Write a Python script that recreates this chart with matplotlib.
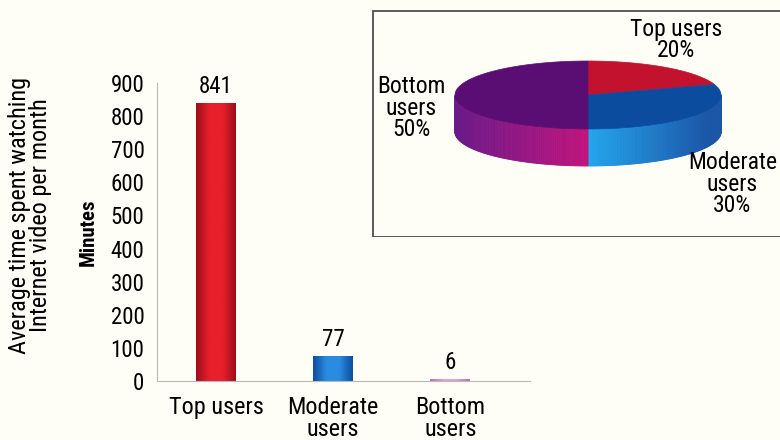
import matplotlib
matplotlib.use('Agg')
import matplotlib.pyplot as plt
import numpy as np
from matplotlib.colors import to_rgb, LinearSegmentedColormap
from matplotlib.patches import Polygon, Rectangle

plt.rcParams['font.family'] = ['Roboto Condensed', 'DejaVu Sans']

# bar chart data
categories = ['Top users', 'Moderate\nusers', 'Bottom\nusers']
minutes = [841, 77, 6]
yticks = [0, 100, 200, 300, 400, 500, 600, 700, 800, 900]

# pie data
pie_labels = ['Top users\n20%', 'Moderate\nusers\n30%', 'Bottom\nusers\n50%']
shares = [20, 30, 50]

bg = '#fffef6'
bar_cols = [('#9e0d1c', '#e8202c'), ('#0b4f9e', '#2a8be0'), ('#c86aa8', '#e6a0d0')]
top_cols = ['#c3122e', '#0b4c9e', '#5a0d72']
side_cols = [('#c3122e', '#8a0c20'), ('#22a6ee', '#1c56a6'), ('#6a1a8a', '#c0147c')]

fig = plt.figure(figsize=(7.8, 4.4), dpi=100, facecolor=bg)

# ---- bar chart ----
ax = fig.add_axes([157/780, 1-381/440, 373/780, (381-83)/440])
ax.set_facecolor('none')
x = np.arange(len(categories))
bars = ax.bar(x, minutes, width=0.34, color='none', zorder=2)
for b, (dark, light) in zip(bars, bar_cols):
    cmap = LinearSegmentedColormap.from_list('c', [dark, light, light, dark])
    grad = np.linspace(0, 1, 64).reshape(1, -1)
    x0, w, h = b.get_x(), b.get_width(), b.get_height()
    im = ax.imshow(grad, cmap=cmap, aspect='auto', extent=[x0, x0 + w, 0, max(h, 1)],
                   zorder=2, interpolation='bicubic')
    im.set_clip_path(b)
for xi, v in zip(x, minutes):
    ax.text(xi, v + 14, str(v), ha='center', va='bottom', fontsize=16.5)
ax.set_xlim(-0.504, 2.68)
ax.set_ylim(0, 900)
ax.set_yticks(yticks)
ax.set_yticklabels([str(t) for t in yticks], fontsize=16.5)
ax.set_xticks(x)
ax.set_xticklabels(categories, fontsize=17.5, linespacing=0.92)
ax.tick_params(length=0, pad=9)
ax.tick_params(axis='x', pad=11)
for s in ['top', 'right']:
    ax.spines[s].set_visible(False)
for s in ['left', 'bottom']:
    ax.spines[s].set_color('#b8b8b8')
    ax.spines[s].set_linewidth(0.8)
ax.set_ylabel('Minutes', fontsize=15, fontweight='black', labelpad=9)
fig.text(30/780, 1-215/440, 'Average time spent watching\nInternet video per month',
         rotation=90, ha='center', va='center', fontsize=17.5, linespacing=0.92)

# ---- 3D pie inset ----
pax = fig.add_axes([372/780, 1-237/440, 408/780, 227/440])
pax.set_xlim(0, 408)
pax.set_ylim(0, 227)
pax.axis('off')
pax.add_patch(Rectangle((0.5, 0.5), 420, 226, fill=False, ec='#404040', lw=1.2))
cx, cy, rx, ry, depth = 216, 142, 133, 34, 37

starts = 90 - np.cumsum([0] + shares[:-1]) * 3.6
ends = starts - np.array(shares) * 3.6
# side walls, front half only
for k, (a0, a1, (c0, c1)) in enumerate(zip(starts, ends, side_cols)):
    th = np.linspace(np.radians(a1), np.radians(a0), 200)
    for t0, t1 in zip(th[:-1], th[1:]):
        tm = (t0 + t1) / 2
        if np.sin(tm) >= 0:
            continue
        if k == 1:
            f = np.clip(np.cos(tm) * 1.1, 0, 1)
        else:
            f = np.clip(np.cos(tm) + 1, 0, 1)
        col = (1 - f) * np.array(to_rgb(c0)) + f * np.array(to_rgb(c1))
        pts = [(cx + rx*np.cos(t0), cy + ry*np.sin(t0)), (cx + rx*np.cos(t1), cy + ry*np.sin(t1)),
               (cx + rx*np.cos(t1), cy + ry*np.sin(t1) - depth), (cx + rx*np.cos(t0), cy + ry*np.sin(t0) - depth)]
        pax.add_patch(Polygon(pts, closed=True, fc=col, ec=col, lw=0.6))
# top faces
for a0, a1, c in zip(starts, ends, top_cols):
    th = np.radians(np.linspace(a0, a1, 120))
    pts = [(cx, cy)] + [(cx + rx*np.cos(t), cy + ry*np.sin(t)) for t in th]
    pax.add_patch(Polygon(pts, closed=True, fc=c, ec=c, lw=0.5))

pax.text(304, 197, pie_labels[0], ha='center', va='center', fontsize=17, linespacing=0.92)
pax.text(405, 53, pie_labels[1], ha='right', va='center', fontsize=17, linespacing=0.92, multialignment='center')
pax.text(39, 129, pie_labels[2], ha='center', va='center', fontsize=17, linespacing=0.92)

fig.savefig('out.png', dpi=100, facecolor=bg)
